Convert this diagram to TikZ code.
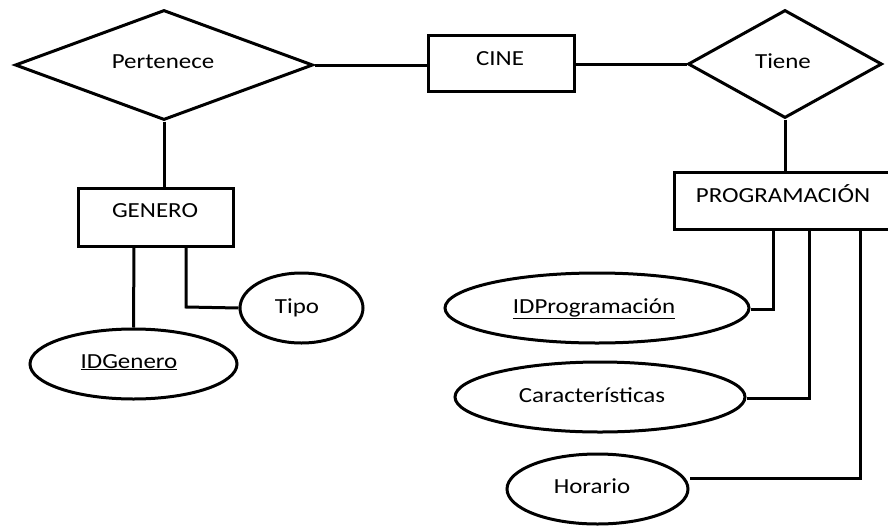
\documentclass[tikz,border=0pt]{standalone}
\usepackage{fontspec}
\setmainfont[FakeStretch=1.16]{Carlito}
\usetikzlibrary{shapes.geometric}
\tikzset{
  er/.style={draw=black, line width=3pt, inner sep=0pt, fill=white},
  entity/.style={er, rectangle},
  relation/.style={er, diamond},
  attribute/.style={er, ellipse},
  lbl/.style={anchor=base, inner sep=0pt, font=\fontsize{21.5}{26}\selectfont},
  link/.style={draw=black, line width=3pt}
}
\begin{document}
\begin{tikzpicture}[x=1pt,y=-1pt]
\useasboundingbox (0,0) rectangle (888,525);

% entities
\node[entity, minimum width=146, minimum height=56] (cine) at (501,63) {};
\node[entity, minimum width=155, minimum height=58] (genero) at (155.5,217) {};
\node[entity, minimum width=222, minimum height=57] (prog) at (785,200.5) {};

% relationships
\node[relation, minimum width=298, minimum height=110] (pert) at (164,65) {};
\node[relation, minimum width=194, minimum height=108] (tiene) at (785,64) {};

% attributes
\node[attribute, minimum width=123, minimum height=70] (tipo) at (301.5,308) {};
\node[attribute, minimum width=207, minimum height=70] (idgen) at (133.5,364) {};
\node[attribute, minimum width=304, minimum height=70] (idprog) at (597,308) {};
\node[attribute, minimum width=290, minimum height=70] (carac) at (600,397) {};
\node[attribute, minimum width=181, minimum height=70] (hor) at (597.5,489) {};

% corner points of the attribute links
\coordinate (gA) at (134,246);
\coordinate (gB) at (186,246);
\coordinate (gBc) at (186,307);
\coordinate (pA) at (773,229);
\coordinate (pAc) at (773,309);
\coordinate (pB) at (809,229);
\coordinate (pBc) at (809,398);
\coordinate (pC) at (860,229);
\coordinate (pCc) at (860,478);

% connectors
\draw[link] (pert.east) -- (pert.east -| cine.west);
\draw[link] (cine.east |- tiene.west) -- (tiene.west);
\draw[link] (pert.south) -- (pert.south |- genero.north);
\draw[link] (tiene.south) -- (tiene.south |- prog.north);
\draw[link] (gA) -- (idgen.north);
\draw[link] (gB) -- (gBc) -- (tipo.west);
\draw[link] (pA) -- (pAc) -- (idprog.east |- pAc);
\draw[link] (pB) -- (pBc) -- (carac.east |- pBc);
\draw[link] (pC) -- (pCc) -- (hor.east |- pCc);

% texts
\node[lbl] (tPert) at (163,68) {Pertenece};
\node[lbl] (tCine) at (500,65) {CINE};
\node[lbl] (tTiene) at (783,68) {Tiene};
\node[lbl] (tGen) at (155,217) {GENERO};
\node[lbl] (tProg) at (783,202) {PROGRAMACIÓN};
\node[lbl] (tTipo) at (297,313) {Tipo};
\node[lbl] (tIdGen) at (129,368) {\underline{IDGenero}};
\node[lbl] (tIdProg) at (594,313) {\underline{IDProgramación}};
\node[lbl] (tCarac) at (592,402) {Características};
\node[lbl] (tHor) at (592,493) {Horario};
\end{tikzpicture}
\end{document}
